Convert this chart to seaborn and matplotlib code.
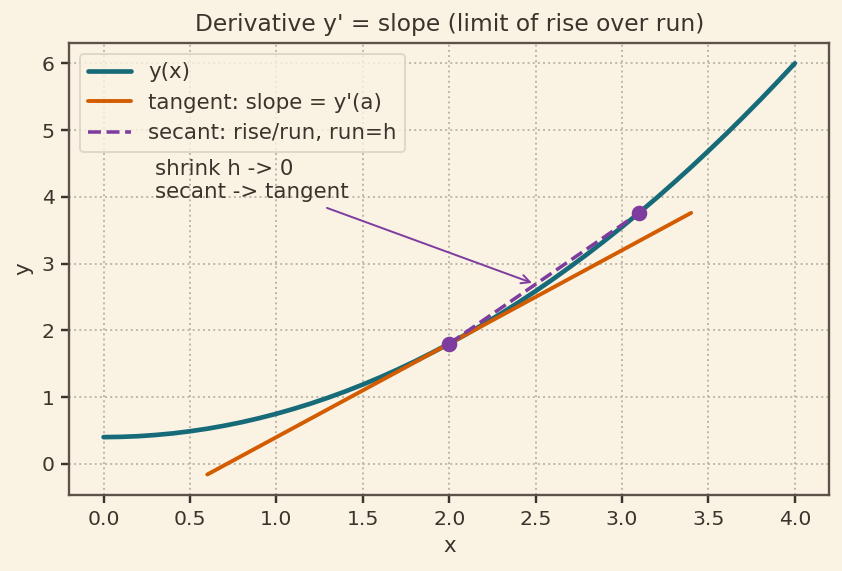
import matplotlib
matplotlib.use("Agg")
import matplotlib.pyplot as plt
import seaborn as sns

# curve y(x)
x_curve = [0.0, 0.1, 0.2, 0.3, 0.4, 0.5, 0.6, 0.7, 0.8, 0.9, 1.0,
           1.1, 1.2, 1.3, 1.4, 1.5, 1.6, 1.7, 1.8, 1.9, 2.0,
           2.1, 2.2, 2.3, 2.4, 2.5, 2.6, 2.7, 2.8, 2.9, 3.0,
           3.1, 3.2, 3.3, 3.4, 3.5, 3.6, 3.7, 3.8, 3.9, 4.0]
y_curve = [0.400, 0.404, 0.414, 0.432, 0.456, 0.488, 0.526, 0.572, 0.624, 0.684, 0.750,
           0.824, 0.904, 0.992, 1.086, 1.188, 1.296, 1.412, 1.534, 1.664, 1.800,
           1.944, 2.094, 2.252, 2.416, 2.588, 2.766, 2.952, 3.144, 3.344, 3.550,
           3.764, 3.984, 4.212, 4.446, 4.688, 4.936, 5.192, 5.454, 5.724, 6.000]

# tangent at a=2
x_tan = [0.6, 3.4]
y_tan = [-0.16, 3.76]

# secant from a to a+h
x_sec = [2.0, 3.1]
y_sec = [1.80, 3.76]

bg = "#faf3e4"
ink = "#3b342c"
sns.set_theme(style="whitegrid", rc={
    "figure.facecolor": bg, "axes.facecolor": bg, "savefig.facecolor": bg,
    "axes.edgecolor": "#5c5247", "axes.linewidth": 1.2,
    "grid.color": "#bdb7a9", "grid.linestyle": ":", "grid.linewidth": 1.0,
    "text.color": ink, "axes.labelcolor": ink,
    "xtick.color": ink, "ytick.color": ink,
    "xtick.bottom": True, "ytick.left": True,
    "xtick.major.size": 4, "ytick.major.size": 4,
})
plt.rcParams["font.family"] = ["DejaVu Sans"]

fig, ax = plt.subplots(figsize=(842 / 140, 571 / 140), dpi=140)

sns.lineplot(x=x_curve, y=y_curve, ax=ax, color="#176b79", lw=2.4, label="y(x)")
sns.lineplot(x=x_tan, y=y_tan, ax=ax, color="#d35b00", lw=2.0, label="tangent: slope = y'(a)")
sns.lineplot(x=x_sec, y=y_sec, ax=ax, color="#7d3c9e", lw=1.8, linestyle="--",
             label="secant: rise/run, run=h")
ax.plot(x_sec, y_sec, "o", color="#7d3c9e", ms=7, zorder=5)

mid_x = 2.5
mid_y = y_sec[0] + (y_sec[1] - y_sec[0]) / (x_sec[1] - x_sec[0]) * (mid_x - x_sec[0])
ax.annotate("shrink h -> 0\nsecant -> tangent", xy=(mid_x, mid_y), xytext=(0.3, 3.92),
            fontsize=11, color=ink, ha="left", va="bottom",
            arrowprops=dict(arrowstyle="->", color="#7d3c9e", lw=1.0))

ax.set_xlim(-0.2, 4.2)
ax.set_ylim(-0.468, 6.308)
ax.set_xticks([0.0, 0.5, 1.0, 1.5, 2.0, 2.5, 3.0, 3.5, 4.0])
ax.tick_params(labelsize=10.5)
ax.set_xlabel("x", fontsize=11)
ax.set_ylabel("y", fontsize=11)
ax.set_title("Derivative y' = slope (limit of rise over run)", fontsize=12, color=ink)
leg = ax.legend(loc="upper left", fontsize=11, frameon=True, facecolor=bg, edgecolor="#d8d0c2")

fig.subplots_adjust(left=0.082, right=0.985, top=0.925, bottom=0.133)
fig.savefig("out.png", dpi=140)
